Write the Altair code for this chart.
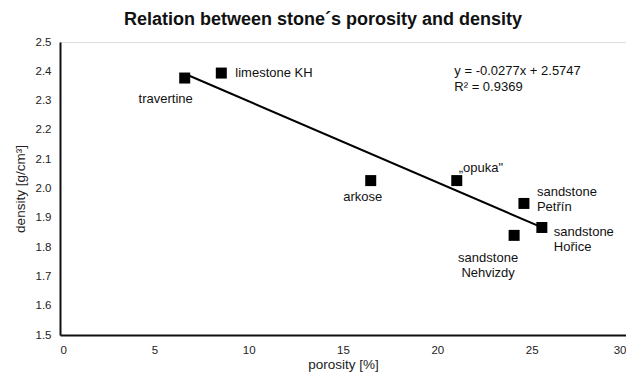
import altair as alt
import pandas as pd

names = ["travertine", "limestone KH", "arkose", "„opuka\"", "sandstone Petřín", "sandstone Hořice", "sandstone Nehvizdy"]
porosity = [6.61, 8.55, 16.47, 21.03, 24.59, 25.54, 24.07]
density = [2.377, 2.394, 2.027, 2.027, 1.949, 1.867, 1.84]

slope = -0.0277
intercept = 2.5747
eq_lines = ["y = -0.0277x + 2.5747", "R² = 0.9369"]

df = pd.DataFrame({"name": names, "porosity": porosity, "density": density})
x0, x1 = min(porosity), max(porosity)
trend = pd.DataFrame({"porosity": [x0, x1], "density": [slope * x0 + intercept, slope * x1 + intercept]})

FONT = "Liberation Sans"
xs = alt.Scale(domain=[0, 30], nice=False)
ys = alt.Scale(domain=[1.5, 2.5], nice=False, zero=False)

X = alt.X("porosity:Q", scale=xs, title="porosity [%]",
          axis=alt.Axis(values=[0, 5, 10, 15, 20, 25, 30], grid=False, ticks=False, labelPadding=9,
                        domainColor="#111", domainWidth=2, labelFontSize=11.5, labelColor="#222",
                        titleFontSize=13.5, titleFontWeight="normal", titleColor="#222", titlePadding=2,
                        labelFont=FONT, titleFont=FONT, labelFlush=True))
Y = alt.Y("density:Q", scale=ys, title="density [g/cm³]",
          axis=alt.Axis(values=[1.5, 1.6, 1.7, 1.8, 1.9, 2.0, 2.1, 2.2, 2.3, 2.4, 2.5], format=".1f",
                        grid=False, ticks=False, labelPadding=9, domainColor="#111", domainWidth=2,
                        labelFontSize=11.5, labelColor="#222", titleFontSize=13.5, titleFontWeight="normal",
                        titleColor="#222", titlePadding=8, labelFont=FONT, titleFont=FONT))

line = alt.Chart(trend).mark_line(color="black", strokeWidth=2).encode(x=X, y=Y)
pts = alt.Chart(df).mark_square(size=121, color="black", opacity=1).encode(x=X, y=Y)

label_style = {
    "travertine": dict(dx=-19, dy=21, align="center"),
    "limestone KH": dict(dx=14, dy=0, align="left"),
    "arkose": dict(dx=-8, dy=16, align="center"),
    "„opuka\"": dict(dx=2, dy=-13, align="left"),
    "sandstone Petřín": dict(dx=13, dy=-11, align="left"),
    "sandstone Hořice": dict(dx=12, dy=5, align="left"),
    "sandstone Nehvizdy": dict(dx=-26, dy=23, align="center"),
}

layers = [line, pts]
for n in names:
    st = label_style[n]
    txt = n if n == "limestone KH" else n.replace(" ", "\n")
    sub = df[df["name"] == n].assign(label=txt)
    layers.append(
        alt.Chart(sub).mark_text(font=FONT, fontSize=13, color="#111", baseline="middle",
                                 lineBreak="\n", lineHeight=14.5, **st)
        .encode(x=X, y=Y, text="label:N")
    )

eq = pd.DataFrame({"porosity": [20.9, 20.9], "density": [2.401, 2.347], "label": eq_lines})
layers.append(
    alt.Chart(eq).mark_text(font=FONT, fontSize=13, color="#111", align="left", baseline="middle")
    .encode(x=X, y=Y, text="label:N")
)

chart = alt.layer(*layers).properties(
    width=566, height=293,
    title=alt.TitleParams("Relation between stone´s porosity and density", font=FONT, fontSize=18,
                          fontWeight="bold", color="#111", anchor="middle", offset=7, dx=-20),
    autosize=alt.AutoSizeParams(type="none"),
    padding={"left": 52, "top": 34, "right": 0, "bottom": 40},
).configure_view(stroke="#999", strokeWidth=2).configure(background="white")

chart.save("out.html", embed_options={"renderer": "svg", "actions": False})
